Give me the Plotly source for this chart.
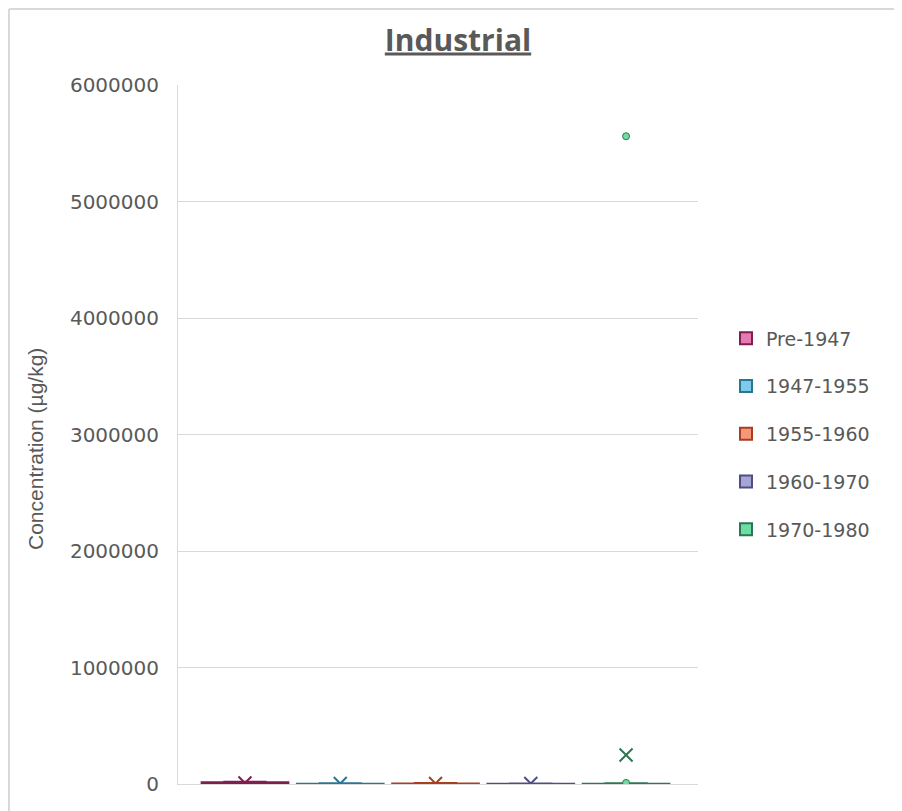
import plotly.graph_objects as go

# ---- data ----
series = ["Pre-1947", "1947-1955", "1955-1960", "1960-1970", "1970-1980"]
q1 = [500, 100, 200, 100, 100]
median = [4000, 800, 1500, 600, 900]
q3 = [14000, 3000, 4000, 2500, 3000]
lowerfence = [0, 0, 0, 0, 0]
upperfence = [20000, 6000, 8000, 5000, 6000]
means = [9000, 4000, 5000, 4000, 249000]
outlier_series = ["1970-1980", "1970-1980"]
outlier_values = [5560000, 9000]
y_ticks = [0, 1000000, 2000000, 3000000, 4000000, 5000000, 6000000]

# ---- styles ----
fills = ["#E57BB0", "#7DCBEB", "#F7977A", "#A5A5D6", "#6CDDA3"]
lines = ["#7F1F4F", "#2A7494", "#A8401F", "#4E4E82", "#2E7552"]
TXT = "#595959"
GRID = "#D9D9D9"

W, H = 902, 811
OFF = 8  # page body margin: screen = figure + OFF
# desired plot area in screen pixels
SX0, SX1, SY0, SY1 = 178, 698, 85, 784
ML, MT = SX0 - OFF, SY0 - OFF
MR, MB = W - (SX1 - OFF), H - (SY1 - OFF)
PW, PH = SX1 - SX0, SY1 - SY0


def sx(px):  # screen x -> paper x
    return (px - SX0) / PW


def sy(py):  # screen y -> paper y
    return (SY1 - py) / PH


fig = go.Figure()
for i, s in enumerate(series):
    fig.add_trace(go.Box(
        name=s, x=[i], q1=[q1[i]], median=[median[i]], q3=[q3[i]],
        lowerfence=[lowerfence[i]], upperfence=[upperfence[i]],
        width=0.91, whiskerwidth=0.5,
        fillcolor=fills[i], line=dict(color=lines[i], width=2),
        boxpoints=False, legendgroup=s, showlegend=True,
    ))

# means as X markers
fig.add_trace(go.Scatter(
    x=list(range(len(series))), y=means, mode="markers",
    marker=dict(symbol="x-thin-open", size=13, color=lines,
                line=dict(color=lines, width=2)),
    showlegend=False, hoverinfo="skip",
))

# outliers
ox = [series.index(s) for s in outlier_series]
oc = [fills[series.index(s)] for s in outlier_series]
ol = [lines[series.index(s)] for s in outlier_series]
fig.add_trace(go.Scatter(
    x=ox, y=outlier_values, mode="markers",
    marker=dict(symbol="circle", size=7, color=oc, line=dict(color=ol, width=1)),
    showlegend=False, hoverinfo="skip",
))

# chart border (left and top edges visible)
fig.add_shape(type="line", xref="paper", yref="paper",
              x0=sx(9), x1=sx(9), y0=sy(9), y1=sy(H + 20),
              line=dict(color=GRID, width=2))
fig.add_shape(type="line", xref="paper", yref="paper",
              x0=sx(9), x1=sx(W + 20), y0=sy(9), y1=sy(9),
              line=dict(color=GRID, width=2))

fig.add_annotation(
    text="Concentration (µg/kg)", textangle=-90,
    xref="paper", yref="paper",
    x=sx(35), y=sy(449),
    xanchor="center", yanchor="middle", showarrow=False,
    font=dict(family="Liberation Sans, Arial, sans-serif", size=21, color=TXT),
)

fig.update_layout(
    width=W, height=H,
    margin=dict(l=ML, r=MR, t=MT, b=MB, pad=0),
    paper_bgcolor="white", plot_bgcolor="white",
    title=dict(text="<b><u>Industrial</u></b>", x=(458 - OFF) / W, xanchor="center",
               y=1 - (40 - OFF) / H, yanchor="middle", xref="container", yref="container",
               font=dict(family="Open Sans, sans-serif", size=30, color=TXT)),
    boxmode="overlay",
    showlegend=True,
    legend=dict(x=sx(726), xanchor="left", y=sy(434), yanchor="middle",
                font=dict(family="DejaVu Sans, sans-serif", size=19, color=TXT),
                tracegroupgap=20, traceorder="grouped", itemclick=False,
                bgcolor="rgba(0,0,0,0)"),
    xaxis=dict(range=[-0.703, 4.755], showticklabels=False, showgrid=False,
               zeroline=False, showline=True, linecolor=GRID, linewidth=1,
               ticks=""),
    yaxis=dict(range=[0, 6000000], tickvals=y_ticks, tickformat="d",
               showgrid=True, gridcolor=GRID, gridwidth=1, zeroline=False,
               showline=True, linecolor=GRID, linewidth=1, ticks="",
               ticklabelstandoff=14,
               tickfont=dict(family="DejaVu Sans, sans-serif", size=20, color=TXT)),
)

fig.write_html("out.html")
